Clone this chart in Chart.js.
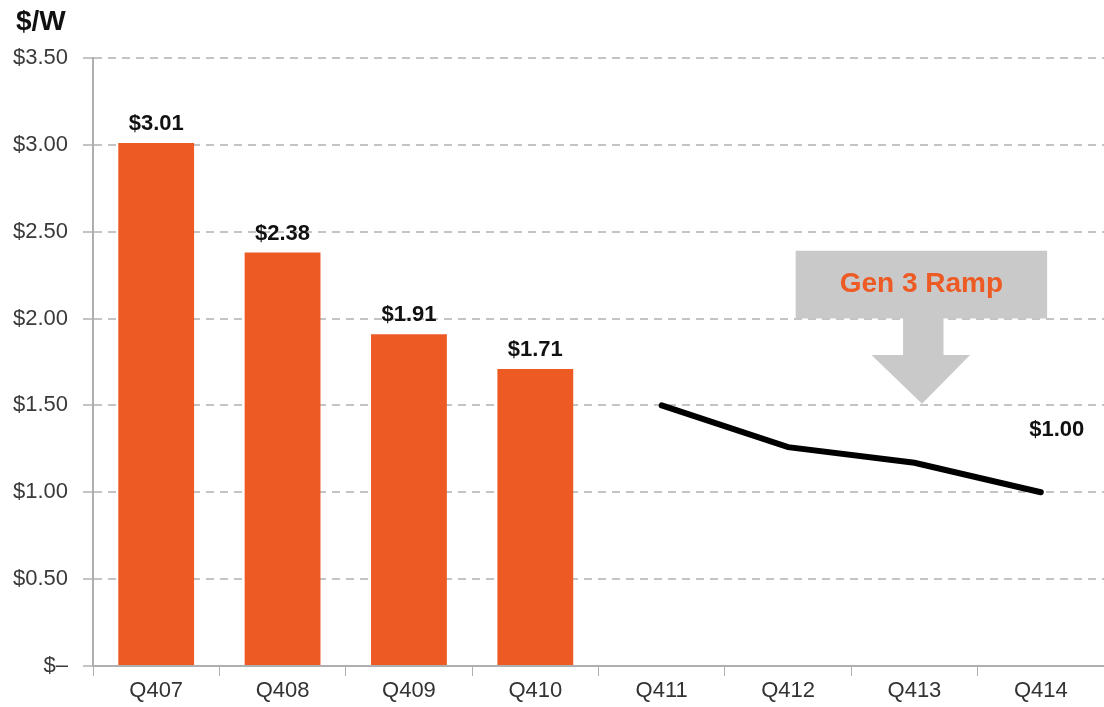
<!DOCTYPE html>
<html>
<head>
<meta charset="utf-8">
<script src="https://cdn.jsdelivr.net/npm/chart.js@4"></script>
<style>
  html, body { margin: 0; padding: 0; background: #fff; }
  #wrap { width: 1104px; height: 707px; position: relative; }
</style>
</head>
<body>
<div id="wrap"><canvas id="costChart"></canvas></div>
<script>
// ========== DATA ==========
const quarters = ['Q407', 'Q408', 'Q409', 'Q410', 'Q411', 'Q412', 'Q413', 'Q414'];
const actualCost = [3.01, 2.38, 1.91, 1.71, null, null, null, null];
const roadmapCost = [null, null, null, null, 1.50, 1.26, 1.17, 1.00];
const yTicks = [0, 0.5, 1.0, 1.5, 2.0, 2.5, 3.0, 3.5];

const ORANGE = '#EE5A24';
const FONT = '"Liberation Sans", Arial, Helvetica, sans-serif';

// gray "Gen 3 Ramp" arrow, in axis units (category index, $/W)
const ramp = {
    text: 'Gen 3 Ramp',
    boxLeft: 5.06, boxRight: 7.05, boxTop: 2.39, boxBottom: 2.00,
    shaftLeft: 5.91, shaftRight: 6.23, headTop: 1.79,
    headLeft: 5.66, headRight: 6.44, tipX: 6.06, tipY: 1.51
};

const extrasPlugin = {
    id: 'extras',
    beforeDatasetsDraw(chart) {
        const { ctx, scales: { x, y } } = chart;
        const px = v => x.getPixelForValue(v);
        const py = v => y.getPixelForValue(v);
        ctx.save();
        ctx.fillStyle = '#C9C9C9';
        ctx.beginPath();
        ctx.moveTo(px(ramp.boxLeft), py(ramp.boxTop));
        ctx.lineTo(px(ramp.boxRight), py(ramp.boxTop));
        ctx.lineTo(px(ramp.boxRight), py(ramp.boxBottom));
        ctx.lineTo(px(ramp.shaftRight), py(ramp.boxBottom));
        ctx.lineTo(px(ramp.shaftRight), py(ramp.headTop));
        ctx.lineTo(px(ramp.headRight), py(ramp.headTop));
        ctx.lineTo(px(ramp.tipX), py(ramp.tipY));
        ctx.lineTo(px(ramp.headLeft), py(ramp.headTop));
        ctx.lineTo(px(ramp.shaftLeft), py(ramp.headTop));
        ctx.lineTo(px(ramp.shaftLeft), py(ramp.boxBottom));
        ctx.lineTo(px(ramp.boxLeft), py(ramp.boxBottom));
        ctx.closePath();
        ctx.fill();
        ctx.fillStyle = ORANGE;
        ctx.font = 'bold 28px ' + FONT;
        ctx.textAlign = 'center';
        ctx.textBaseline = 'middle';
        ctx.fillText(ramp.text, px((ramp.boxLeft + ramp.boxRight) / 2), py((ramp.boxTop + ramp.boxBottom) / 2));
        ctx.restore();
    },
    afterDatasetsDraw(chart) {
        const { ctx } = chart;
        ctx.save();
        ctx.fillStyle = '#111';
        ctx.font = 'bold 22px ' + FONT;
        ctx.textAlign = 'center';
        ctx.textBaseline = 'alphabetic';
        chart.getDatasetMeta(0).data.forEach((bar, i) => {
            if (actualCost[i] == null) return;
            ctx.fillText('$' + actualCost[i].toFixed(2), bar.x, bar.y - 13);
        });
        // only the last roadmap point gets a label
        const pts = chart.getDatasetMeta(1).data;
        const last = roadmapCost.length - 1;
        ctx.fillText('$' + roadmapCost[last].toFixed(2), pts[last].x + 16, pts[last].y - 56);
        // unit title
        ctx.textAlign = 'left';
        ctx.textBaseline = 'middle';
        ctx.font = 'bold 28px ' + FONT;
        ctx.fillText('$/W', 16, 22);
        ctx.restore();
    }
};

const ctx = document.getElementById('costChart').getContext('2d');
new Chart(ctx, {
    type: 'bar',
    data: {
        labels: quarters,
        datasets: [{
            type: 'bar',
            data: actualCost,
            backgroundColor: ORANGE,
            barPercentage: 0.6,
            categoryPercentage: 1.0,
            order: 2
        }, {
            type: 'line',
            data: roadmapCost,
            borderColor: '#000',
            borderWidth: 6,
            borderCapStyle: 'round',
            pointRadius: 0,
            tension: 0,
            spanGaps: false,
            order: 1
        }]
    },
    options: {
        responsive: true,
        maintainAspectRatio: false,
        animation: false,
        layout: { padding: { top: 58, left: 0, right: 0, bottom: 0 } },
        plugins: { legend: { display: false }, tooltip: { enabled: false } },
        scales: {
            x: {
                offset: true,
                grid: { drawOnChartArea: false, drawTicks: true, tickLength: 10, color: '#AFAFAF', offset: true },
                border: { color: '#AFAFAF', width: 2 },
                ticks: { color: '#333', font: { family: FONT, size: 22 }, padding: 2, maxRotation: 0 },
                afterFit(scale) { scale.height = 41; }
            },
            y: {
                min: 0, max: 3.5,
                afterBuildTicks(scale) { scale.ticks = yTicks.map(v => ({ value: v })); },
                grid: { color: '#C4C4C4', lineWidth: 2, tickLength: 10 },
                border: { color: '#AFAFAF', width: 2, dash: [8, 6] },
                ticks: {
                    color: '#3A3A3A',
                    font: { family: FONT, size: 22 },
                    padding: 15,
                    callback: v => v === 0 ? '$–' : '$' + v.toFixed(2)
                },
                afterFit(scale) { scale.width = 93; }
            }
        }
    },
    plugins: [extrasPlugin]
});
</script>
</body>
</html>
